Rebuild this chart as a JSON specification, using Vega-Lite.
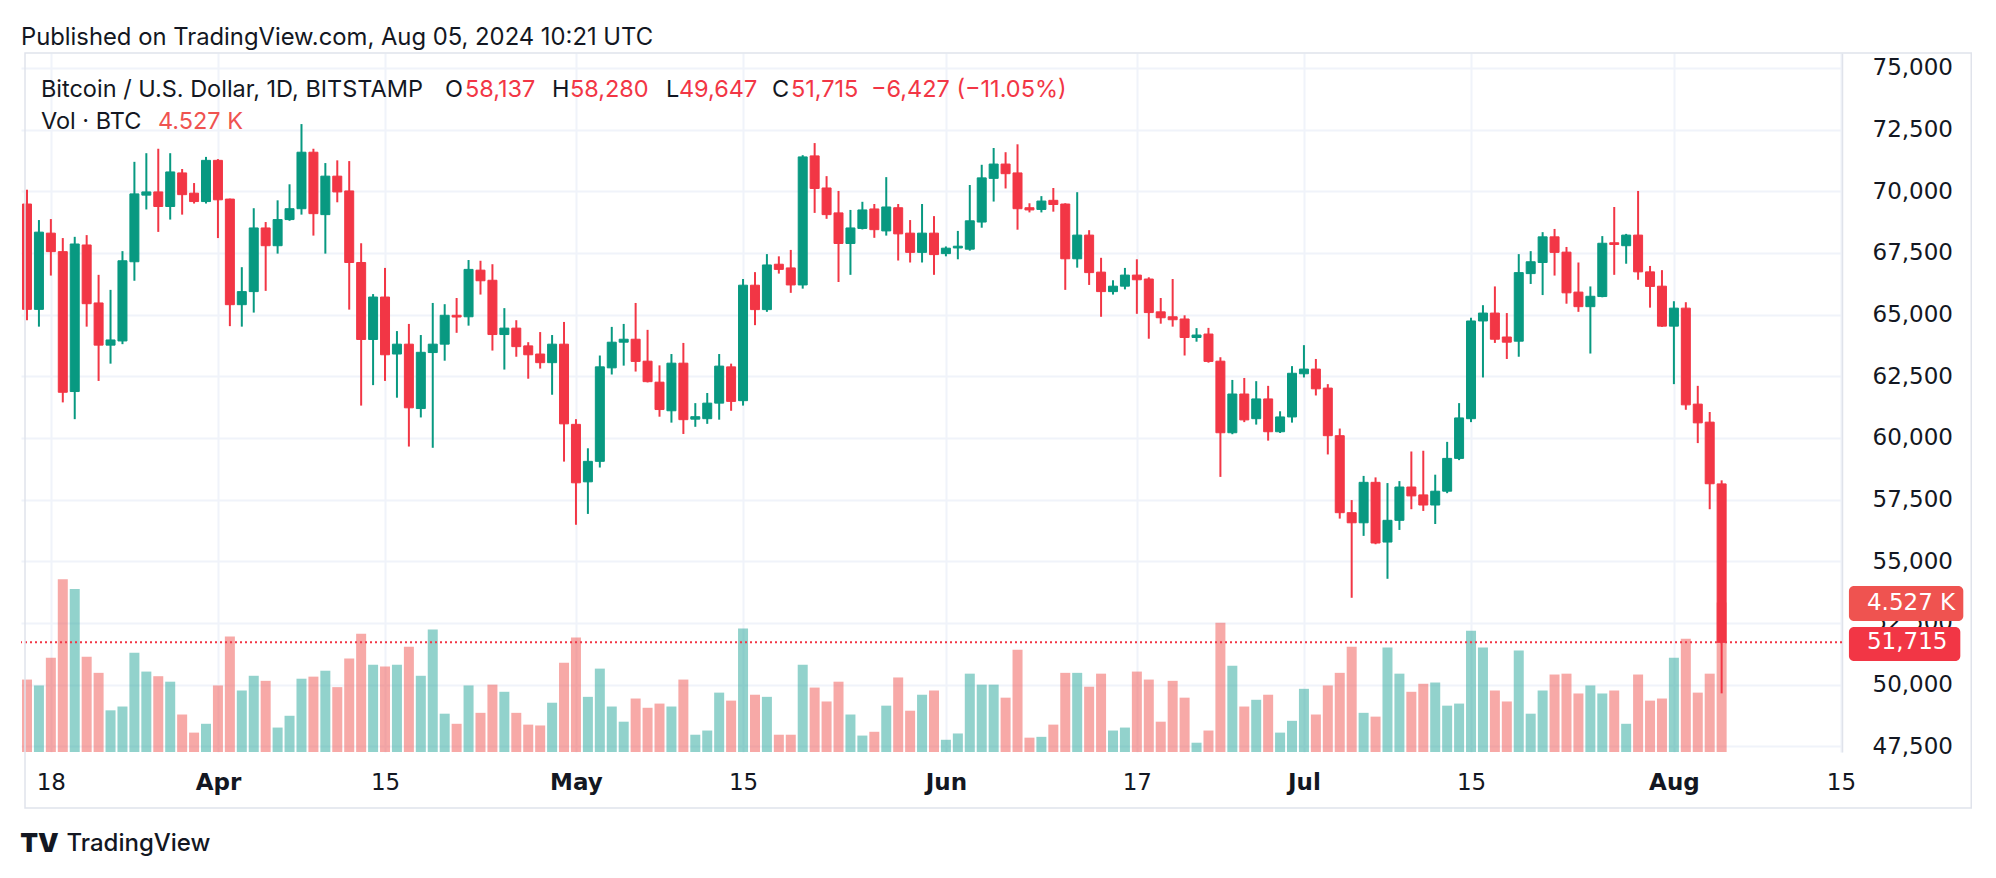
{
  "$schema": "https://vega.github.io/schema/vega-lite/v6.json",
  "width": 1821,
  "height": 699,
  "autosize": {"type": "none"},
  "padding": {"left": 21, "top": 53, "right": 154, "bottom": 126},
  "background": "#ffffff",
  "config": {
    "view": {"stroke": null},
    "axis": {"labelFont": "DejaVu Sans", "labelFontSize": 23, "labelColor": "#131722", "ticks": false, "domain": false, "gridColor": "#f0f3fa", "gridWidth": 2}
  },
  "title": {"text": "Published on TradingView.com, Aug 05, 2024 10:21 UTC", "anchor": "start", "frame": "group", "orient": "top", "offset": 9, "dy": 26, "baseline": "alphabetic", "font": "Inter", "fontSize": 23.8, "fontWeight": 400, "color": "#131722"},
  "data": {"values": [
    {"d":"2024-03-16","o":69480,"h":70060,"l":64770,"c":65210,"v":2193},
    {"d":"2024-03-17","o":65210,"h":68830,"l":64510,"c":68340,"v":2015},
    {"d":"2024-03-18","o":68300,"h":68870,"l":66580,"c":67550,"v":2856},
    {"d":"2024-03-19","o":67550,"h":68100,"l":61440,"c":61850,"v":5228},
    {"d":"2024-03-20","o":61880,"h":68150,"l":60760,"c":67860,"v":4934},
    {"d":"2024-03-21","o":67820,"h":68220,"l":64510,"c":65440,"v":2882},
    {"d":"2024-03-22","o":65470,"h":66610,"l":62310,"c":63760,"v":2397},
    {"d":"2024-03-23","o":63760,"h":66000,"l":63010,"c":63970,"v":1262},
    {"d":"2024-03-24","o":63930,"h":67570,"l":63800,"c":67180,"v":1377},
    {"d":"2024-03-25","o":67140,"h":71190,"l":66370,"c":69890,"v":3009},
    {"d":"2024-03-26","o":69840,"h":71540,"l":69260,"c":69970,"v":2435},
    {"d":"2024-03-27","o":69970,"h":71720,"l":68350,"c":69380,"v":2295},
    {"d":"2024-03-28","o":69380,"h":71540,"l":68850,"c":70780,"v":2129},
    {"d":"2024-03-29","o":70740,"h":70900,"l":69050,"c":69860,"v":1135},
    {"d":"2024-03-30","o":69920,"h":70330,"l":69500,"c":69580,"v":587},
    {"d":"2024-03-31","o":69580,"h":71390,"l":69500,"c":71250,"v":854},
    {"d":"2024-04-01","o":71250,"h":71300,"l":68100,"c":69650,"v":2015},
    {"d":"2024-04-02","o":69680,"h":69700,"l":64530,"c":65400,"v":3494},
    {"d":"2024-04-03","o":65400,"h":66920,"l":64510,"c":65930,"v":1862},
    {"d":"2024-04-04","o":65930,"h":69310,"l":65080,"c":68510,"v":2308},
    {"d":"2024-04-05","o":68510,"h":68750,"l":65960,"c":67790,"v":2155},
    {"d":"2024-04-06","o":67790,"h":69630,"l":67470,"c":68850,"v":740},
    {"d":"2024-04-07","o":68850,"h":70280,"l":68800,"c":69290,"v":1097},
    {"d":"2024-04-08","o":69290,"h":72720,"l":69050,"c":71580,"v":2219},
    {"d":"2024-04-09","o":71580,"h":71720,"l":68200,"c":69090,"v":2282},
    {"d":"2024-04-10","o":69050,"h":71140,"l":67470,"c":70610,"v":2461},
    {"d":"2024-04-11","o":70610,"h":71250,"l":69550,"c":69970,"v":1964},
    {"d":"2024-04-12","o":70010,"h":71220,"l":65200,"c":67110,"v":2831},
    {"d":"2024-04-13","o":67110,"h":67890,"l":61310,"c":63990,"v":3583},
    {"d":"2024-04-14","o":63990,"h":65830,"l":62140,"c":65710,"v":2639},
    {"d":"2024-04-15","o":65710,"h":66890,"l":62310,"c":63370,"v":2588},
    {"d":"2024-04-16","o":63400,"h":64330,"l":61630,"c":63800,"v":2639},
    {"d":"2024-04-17","o":63800,"h":64620,"l":59650,"c":61220,"v":3188},
    {"d":"2024-04-18","o":61190,"h":64170,"l":60830,"c":63470,"v":2308},
    {"d":"2024-04-19","o":63460,"h":65470,"l":59600,"c":63800,"v":3710},
    {"d":"2024-04-20","o":63800,"h":65420,"l":63130,"c":64970,"v":1160},
    {"d":"2024-04-21","o":64970,"h":65670,"l":64260,"c":64900,"v":854},
    {"d":"2024-04-22","o":64910,"h":67210,"l":64550,"c":66830,"v":2015},
    {"d":"2024-04-23","o":66800,"h":67180,"l":65810,"c":66370,"v":1186},
    {"d":"2024-04-24","o":66390,"h":67040,"l":63540,"c":64190,"v":2040},
    {"d":"2024-04-25","o":64190,"h":65260,"l":62770,"c":64450,"v":1823},
    {"d":"2024-04-26","o":64450,"h":64770,"l":63290,"c":63700,"v":1186},
    {"d":"2024-04-27","o":63730,"h":63880,"l":62400,"c":63370,"v":829},
    {"d":"2024-04-28","o":63400,"h":64290,"l":62810,"c":63050,"v":803},
    {"d":"2024-04-29","o":63050,"h":64170,"l":61750,"c":63800,"v":1492},
    {"d":"2024-04-30","o":63800,"h":64700,"l":59040,"c":60570,"v":2703},
    {"d":"2024-05-01","o":60550,"h":60760,"l":56480,"c":58180,"v":3468},
    {"d":"2024-05-02","o":58220,"h":59580,"l":56920,"c":59050,"v":1670},
    {"d":"2024-05-03","o":59050,"h":63340,"l":58800,"c":62880,"v":2525},
    {"d":"2024-05-04","o":62840,"h":64500,"l":62570,"c":63880,"v":1377},
    {"d":"2024-05-05","o":63880,"h":64620,"l":62930,"c":64000,"v":918},
    {"d":"2024-05-06","o":64000,"h":65470,"l":62690,"c":63100,"v":1619},
    {"d":"2024-05-07","o":63110,"h":64380,"l":62250,"c":62280,"v":1339},
    {"d":"2024-05-08","o":62260,"h":62940,"l":60860,"c":61150,"v":1466},
    {"d":"2024-05-09","o":61100,"h":63400,"l":60620,"c":63030,"v":1377},
    {"d":"2024-05-10","o":63030,"h":63850,"l":60160,"c":60740,"v":2193},
    {"d":"2024-05-11","o":60760,"h":61410,"l":60450,"c":60860,"v":523},
    {"d":"2024-05-12","o":60780,"h":61820,"l":60570,"c":61410,"v":650},
    {"d":"2024-05-13","o":61410,"h":63400,"l":60740,"c":62910,"v":1798},
    {"d":"2024-05-14","o":62880,"h":63010,"l":61100,"c":61480,"v":1556},
    {"d":"2024-05-15","o":61510,"h":66440,"l":61310,"c":66190,"v":3736},
    {"d":"2024-05-16","o":66190,"h":66720,"l":64570,"c":65200,"v":1734},
    {"d":"2024-05-17","o":65200,"h":67450,"l":65110,"c":67010,"v":1670},
    {"d":"2024-05-18","o":67040,"h":67360,"l":66660,"c":66830,"v":523},
    {"d":"2024-05-19","o":66890,"h":67620,"l":65880,"c":66200,"v":523},
    {"d":"2024-05-20","o":66200,"h":71460,"l":66050,"c":71390,"v":2639},
    {"d":"2024-05-21","o":71430,"h":71950,"l":69120,"c":70110,"v":1951},
    {"d":"2024-05-22","o":70130,"h":70610,"l":68880,"c":69050,"v":1530},
    {"d":"2024-05-23","o":69120,"h":70010,"l":66320,"c":67880,"v":2129},
    {"d":"2024-05-24","o":67880,"h":69240,"l":66610,"c":68510,"v":1135},
    {"d":"2024-05-25","o":68490,"h":69570,"l":68450,"c":69240,"v":497},
    {"d":"2024-05-26","o":69280,"h":69480,"l":68110,"c":68440,"v":612},
    {"d":"2024-05-27","o":68390,"h":70570,"l":68200,"c":69360,"v":1403},
    {"d":"2024-05-28","o":69330,"h":69480,"l":67190,"c":68270,"v":2257},
    {"d":"2024-05-29","o":68300,"h":68830,"l":67110,"c":67520,"v":1250},
    {"d":"2024-05-30","o":67520,"h":69480,"l":67110,"c":68300,"v":1734},
    {"d":"2024-05-31","o":68300,"h":68990,"l":66610,"c":67430,"v":1862},
    {"d":"2024-06-01","o":67470,"h":67760,"l":67360,"c":67690,"v":370},
    {"d":"2024-06-02","o":67700,"h":68390,"l":67240,"c":67770,"v":561},
    {"d":"2024-06-03","o":67650,"h":70250,"l":67590,"c":68800,"v":2372},
    {"d":"2024-06-04","o":68750,"h":71070,"l":68520,"c":70540,"v":2040},
    {"d":"2024-06-05","o":70520,"h":71750,"l":69580,"c":71100,"v":2040},
    {"d":"2024-06-06","o":71100,"h":71580,"l":70110,"c":70710,"v":1645},
    {"d":"2024-06-07","o":70740,"h":71900,"l":68440,"c":69290,"v":3098},
    {"d":"2024-06-08","o":69330,"h":69510,"l":69140,"c":69240,"v":434},
    {"d":"2024-06-09","o":69260,"h":69800,"l":69140,"c":69600,"v":459},
    {"d":"2024-06-10","o":69630,"h":70130,"l":69170,"c":69460,"v":829},
    {"d":"2024-06-11","o":69480,"h":69510,"l":66000,"c":67260,"v":2397},
    {"d":"2024-06-12","o":67260,"h":69960,"l":66900,"c":68220,"v":2397},
    {"d":"2024-06-13","o":68220,"h":68420,"l":66200,"c":66700,"v":1976},
    {"d":"2024-06-14","o":66720,"h":67300,"l":64910,"c":65930,"v":2372},
    {"d":"2024-06-15","o":65930,"h":66390,"l":65810,"c":66150,"v":650},
    {"d":"2024-06-16","o":66150,"h":66890,"l":66020,"c":66600,"v":740},
    {"d":"2024-06-17","o":66600,"h":67240,"l":65030,"c":66410,"v":2435},
    {"d":"2024-06-18","o":66440,"h":66510,"l":64020,"c":65080,"v":2193},
    {"d":"2024-06-19","o":65110,"h":65670,"l":64630,"c":64870,"v":918},
    {"d":"2024-06-20","o":64910,"h":66440,"l":64510,"c":64790,"v":2155},
    {"d":"2024-06-21","o":64820,"h":64970,"l":63340,"c":64070,"v":1645},
    {"d":"2024-06-22","o":64070,"h":64450,"l":63900,"c":64170,"v":281},
    {"d":"2024-06-23","o":64210,"h":64460,"l":63050,"c":63100,"v":650},
    {"d":"2024-06-24","o":63110,"h":63270,"l":58420,"c":60210,"v":3914},
    {"d":"2024-06-25","o":60210,"h":62350,"l":60150,"c":61780,"v":2614},
    {"d":"2024-06-26","o":61780,"h":62430,"l":60640,"c":60730,"v":1377},
    {"d":"2024-06-27","o":60780,"h":62300,"l":60540,"c":61580,"v":1581},
    {"d":"2024-06-28","o":61580,"h":62110,"l":59890,"c":60250,"v":1734},
    {"d":"2024-06-29","o":60250,"h":61080,"l":60200,"c":60850,"v":587},
    {"d":"2024-06-30","o":60850,"h":62910,"l":60620,"c":62620,"v":944},
    {"d":"2024-07-01","o":62600,"h":63760,"l":62450,"c":62790,"v":1913},
    {"d":"2024-07-02","o":62790,"h":63200,"l":61720,"c":61990,"v":1135},
    {"d":"2024-07-03","o":62020,"h":62180,"l":59330,"c":60090,"v":2015},
    {"d":"2024-07-04","o":60090,"h":60380,"l":56730,"c":56970,"v":2397},
    {"d":"2024-07-05","o":56970,"h":57480,"l":53520,"c":56560,"v":3188},
    {"d":"2024-07-06","o":56560,"h":58460,"l":56030,"c":58200,"v":1186},
    {"d":"2024-07-07","o":58200,"h":58400,"l":55690,"c":55740,"v":1071},
    {"d":"2024-07-08","o":55780,"h":58170,"l":54290,"c":56660,"v":3162},
    {"d":"2024-07-09","o":56660,"h":58250,"l":56270,"c":58010,"v":2372},
    {"d":"2024-07-10","o":58010,"h":59450,"l":57110,"c":57650,"v":1823},
    {"d":"2024-07-11","o":57690,"h":59480,"l":57040,"c":57280,"v":2066},
    {"d":"2024-07-12","o":57280,"h":58510,"l":56510,"c":57840,"v":2104},
    {"d":"2024-07-13","o":57840,"h":59840,"l":57760,"c":59170,"v":1403},
    {"d":"2024-07-14","o":59170,"h":61410,"l":59100,"c":60810,"v":1466},
    {"d":"2024-07-15","o":60780,"h":64870,"l":60640,"c":64740,"v":3672},
    {"d":"2024-07-16","o":64740,"h":65380,"l":62450,"c":65060,"v":3162},
    {"d":"2024-07-17","o":65060,"h":66140,"l":63850,"c":64000,"v":1862},
    {"d":"2024-07-18","o":64090,"h":65060,"l":63200,"c":63880,"v":1530},
    {"d":"2024-07-19","o":63920,"h":67450,"l":63290,"c":66700,"v":3073},
    {"d":"2024-07-20","o":66660,"h":67570,"l":66240,"c":67140,"v":1160},
    {"d":"2024-07-21","o":67110,"h":68340,"l":65790,"c":68150,"v":1862},
    {"d":"2024-07-22","o":68150,"h":68470,"l":66580,"c":67520,"v":2346},
    {"d":"2024-07-23","o":67530,"h":67740,"l":65440,"c":65880,"v":2372},
    {"d":"2024-07-24","o":65910,"h":67110,"l":65110,"c":65320,"v":1772},
    {"d":"2024-07-25","o":65320,"h":66140,"l":63420,"c":65740,"v":2015},
    {"d":"2024-07-26","o":65730,"h":68180,"l":65700,"c":67890,"v":1772},
    {"d":"2024-07-27","o":67910,"h":69360,"l":66610,"c":67840,"v":1862},
    {"d":"2024-07-28","o":67790,"h":68270,"l":67060,"c":68220,"v":854},
    {"d":"2024-07-29","o":68220,"h":70010,"l":66410,"c":66730,"v":2346},
    {"d":"2024-07-30","o":66730,"h":66970,"l":65280,"c":66140,"v":1556},
    {"d":"2024-07-31","o":66150,"h":66800,"l":64500,"c":64530,"v":1619},
    {"d":"2024-08-01","o":64530,"h":65540,"l":62180,"c":65260,"v":2856},
    {"d":"2024-08-02","o":65260,"h":65500,"l":61140,"c":61340,"v":3430},
    {"d":"2024-08-03","o":61370,"h":62110,"l":59790,"c":60610,"v":1798},
    {"d":"2024-08-04","o":60640,"h":61050,"l":57110,"c":58142,"v":2372},
    {"d":"2024-08-05","o":58137,"h":58280,"l":49647,"c":51715,"v":4527}
  ]},
  "layer": [
    {
      "mark": {"type": "bar", "width": 10, "fillOpacity": 0.5, "clip": true},
      "encoding": {
        "x": {"field": "d", "type": "temporal",
          "scale": {"domain": [{"year": 2024, "month": 3, "date": 15, "hours": 22, "utc": true}, {"year": 2024, "month": 8, "date": 14, "hours": 16, "utc": true}], "nice": false},
          "axis": {"orient": "bottom",
            "values": [{"year": 2024, "month": 3, "date": 18, "utc": true}, {"year": 2024, "month": 4, "date": 1, "utc": true}, {"year": 2024, "month": 4, "date": 15, "utc": true}, {"year": 2024, "month": 5, "date": 1, "utc": true}, {"year": 2024, "month": 5, "date": 15, "utc": true}, {"year": 2024, "month": 6, "date": 1, "utc": true}, {"year": 2024, "month": 6, "date": 17, "utc": true}, {"year": 2024, "month": 7, "date": 1, "utc": true}, {"year": 2024, "month": 7, "date": 15, "utc": true}, {"year": 2024, "month": 8, "date": 1, "utc": true}, {"year": 2024, "month": 8, "date": 15, "utc": true}],
            "labelExpr": "utcdate(datum.value) == 1 ? utcFormat(datum.value, '%b') : utcFormat(datum.value, '%-d')",
            "labelFontWeight": {"condition": {"test": "utcdate(datum.value) == 1", "value": "bold"}, "value": "normal"},
            "labelBaseline": "middle", "labelPadding": 30, "labelFlush": false, "labelOverlap": false, "labelBound": false, "grid": true,
            "title": "TradingView", "titleX": 45, "titleY": 91, "titleAnchor": "start", "titleAlign": "left", "titleBaseline": "middle", "titleFont": "Inter", "titleFontSize": 24, "titleFontWeight": 500, "titleColor": "#131722"}},
        "y": {"field": "v", "type": "quantitative", "scale": {"domain": [0, 21166], "nice": false},
          "axis": {"orient": "left", "labels": false, "grid": false, "title": "TV", "titleX": 18, "titleY": 790, "titleAngle": 0, "titleAlign": "center", "titleBaseline": "middle", "titleFont": "Inter", "titleFontSize": 26, "titleFontWeight": 900, "titleColor": "#131722"}},
        "color": {"condition": {"test": "datum.c >= datum.o", "value": "#26a69a"}, "value": "#ef5350"}
      }
    },
    {
      "layer": [
        {
          "data": {"values": [{}]},
          "mark": {"type": "rule", "stroke": "#f23645", "strokeWidth": 2, "strokeDash": [2, 3], "clip": true},
          "encoding": {"y": {"datum": 51715, "type": "quantitative"}}
        },
        {
          "mark": {"type": "rule", "strokeWidth": 2, "clip": true},
          "encoding": {
            "x": {"field": "d", "type": "temporal"},
            "y": {"field": "l", "type": "quantitative", "scale": {"domain": [47270, 75601], "nice": false, "zero": false},
              "axis": {"orient": "right", "values": [47500, 50000, 52500, 55000, 57500, 60000, 62500, 65000, 67500, 70000, 72500, 75000], "labelExpr": "format(datum.value, ',')", "labelAlign": "left", "labelBaseline": "middle", "labelPadding": 30, "labelFlush": false, "labelOverlap": false, "labelBound": false, "grid": true, "domain": true, "domainColor": "#e0e3eb", "domainWidth": 1.5, "title": null}},
            "y2": {"field": "h"},
            "color": {"condition": {"test": "datum.c >= datum.o", "value": "#089981"}, "value": "#f23645"}
          }
        },
        {
          "mark": {"type": "bar", "width": 9, "strokeWidth": 1, "clip": true},
          "encoding": {
            "x": {"field": "d", "type": "temporal"},
            "y": {"field": "o", "type": "quantitative"},
            "y2": {"field": "c"},
            "color": {"condition": {"test": "datum.c >= datum.o", "value": "#089981"}, "value": "#f23645"},
            "stroke": {"condition": {"test": "datum.c >= datum.o", "value": "#089981"}, "value": "#f23645"}
          }
        },
        {
          "data": {"values": [{}]},
          "mark": {"type": "rect", "filled": false, "color": "#e0e3eb", "strokeWidth": 1.5, "clip": false},
          "encoding": {
            "x": {"datum": {"year": 2024, "month": 3, "date": 15, "hours": 20, "utc": true}, "type": "temporal"},
            "x2": {"datum": {"year": 2024, "month": 8, "date": 25, "hours": 22, "utc": true}},
            "y": {"datum": 75601, "type": "quantitative"},
            "y2": {"datum": 45000}
          }
        },
        {
          "data": {"values": [{}]},
          "mark": {"type": "rect", "color": "#ef5350", "cornerRadius": 5, "clip": false},
          "encoding": {
            "x": {"datum": {"year": 2024, "month": 8, "date": 15, "hours": 16, "utc": true}, "type": "temporal"},
            "x2": {"datum": {"year": 2024, "month": 8, "date": 25, "hours": 6, "utc": true}},
            "y": {"datum": 53999, "type": "quantitative"},
            "y2": {"datum": 52580}
          }
        },
        {
          "data": {"values": [{}]},
          "mark": {"type": "text", "align": "left", "baseline": "middle", "dx": 18, "font": "DejaVu Sans", "fontSize": 23, "color": "#ffffff", "clip": false},
          "encoding": {
            "x": {"datum": {"year": 2024, "month": 8, "date": 15, "hours": 16, "utc": true}, "type": "temporal"},
            "y": {"datum": 53289, "type": "quantitative"},
            "text": {"value": "4.527 K"}
          }
        },
        {
          "data": {"values": [{}]},
          "mark": {"type": "rect", "color": "#f23645", "cornerRadius": 5, "clip": false},
          "encoding": {
            "x": {"datum": {"year": 2024, "month": 8, "date": 15, "hours": 16, "utc": true}, "type": "temporal"},
            "x2": {"datum": {"year": 2024, "month": 8, "date": 25, "hours": 0, "utc": true}},
            "y": {"datum": 52337, "type": "quantitative"},
            "y2": {"datum": 50959}
          }
        },
        {
          "data": {"values": [{}]},
          "mark": {"type": "text", "align": "left", "baseline": "middle", "dx": 18, "font": "DejaVu Sans", "fontSize": 23, "color": "#ffffff", "clip": false},
          "encoding": {
            "x": {"datum": {"year": 2024, "month": 8, "date": 15, "hours": 16, "utc": true}, "type": "temporal"},
            "y": {"datum": 51715, "type": "quantitative"},
            "text": {"value": "51,715"}
          }
        },
        {
          "data": {"values": [{}]},
          "mark": {"type": "text", "align": "left", "baseline": "middle", "dx": 0, "font": "Inter", "fontSize": 23.5, "fontWeight": 400, "color": "#131722"},
          "encoding": {"x": {"datum": {"year": 2024, "month": 3, "date": 17, "hours": 4, "utc": true}, "type": "temporal"}, "y": {"datum": 74101, "type": "quantitative"}, "text": {"value": "Bitcoin / U.S. Dollar, 1D, BITSTAMP"}}
        },
        {
          "data": {"values": [{}]},
          "mark": {"type": "text", "align": "left", "baseline": "middle", "dx": 404, "font": "Inter", "fontSize": 23.5, "fontWeight": 400, "color": "#131722"},
          "encoding": {"x": {"datum": {"year": 2024, "month": 3, "date": 17, "hours": 4, "utc": true}, "type": "temporal"}, "y": {"datum": 74101, "type": "quantitative"}, "text": {"value": "O"}}
        },
        {
          "data": {"values": [{}]},
          "mark": {"type": "text", "align": "left", "baseline": "middle", "dx": 424, "font": "Inter", "fontSize": 23.5, "fontWeight": 400, "color": "#f23645"},
          "encoding": {"x": {"datum": {"year": 2024, "month": 3, "date": 17, "hours": 4, "utc": true}, "type": "temporal"}, "y": {"datum": 74101, "type": "quantitative"}, "text": {"value": "58,137"}}
        },
        {
          "data": {"values": [{}]},
          "mark": {"type": "text", "align": "left", "baseline": "middle", "dx": 511, "font": "Inter", "fontSize": 23.5, "fontWeight": 400, "color": "#131722"},
          "encoding": {"x": {"datum": {"year": 2024, "month": 3, "date": 17, "hours": 4, "utc": true}, "type": "temporal"}, "y": {"datum": 74101, "type": "quantitative"}, "text": {"value": "H"}}
        },
        {
          "data": {"values": [{}]},
          "mark": {"type": "text", "align": "left", "baseline": "middle", "dx": 529, "font": "Inter", "fontSize": 23.5, "fontWeight": 400, "color": "#f23645"},
          "encoding": {"x": {"datum": {"year": 2024, "month": 3, "date": 17, "hours": 4, "utc": true}, "type": "temporal"}, "y": {"datum": 74101, "type": "quantitative"}, "text": {"value": "58,280"}}
        },
        {
          "data": {"values": [{}]},
          "mark": {"type": "text", "align": "left", "baseline": "middle", "dx": 625, "font": "Inter", "fontSize": 23.5, "fontWeight": 400, "color": "#131722"},
          "encoding": {"x": {"datum": {"year": 2024, "month": 3, "date": 17, "hours": 4, "utc": true}, "type": "temporal"}, "y": {"datum": 74101, "type": "quantitative"}, "text": {"value": "L"}}
        },
        {
          "data": {"values": [{}]},
          "mark": {"type": "text", "align": "left", "baseline": "middle", "dx": 638, "font": "Inter", "fontSize": 23.5, "fontWeight": 400, "color": "#f23645"},
          "encoding": {"x": {"datum": {"year": 2024, "month": 3, "date": 17, "hours": 4, "utc": true}, "type": "temporal"}, "y": {"datum": 74101, "type": "quantitative"}, "text": {"value": "49,647"}}
        },
        {
          "data": {"values": [{}]},
          "mark": {"type": "text", "align": "left", "baseline": "middle", "dx": 731, "font": "Inter", "fontSize": 23.5, "fontWeight": 400, "color": "#131722"},
          "encoding": {"x": {"datum": {"year": 2024, "month": 3, "date": 17, "hours": 4, "utc": true}, "type": "temporal"}, "y": {"datum": 74101, "type": "quantitative"}, "text": {"value": "C"}}
        },
        {
          "data": {"values": [{}]},
          "mark": {"type": "text", "align": "left", "baseline": "middle", "dx": 750, "font": "Inter", "fontSize": 23.5, "fontWeight": 400, "color": "#f23645"},
          "encoding": {"x": {"datum": {"year": 2024, "month": 3, "date": 17, "hours": 4, "utc": true}, "type": "temporal"}, "y": {"datum": 74101, "type": "quantitative"}, "text": {"value": "51,715"}}
        },
        {
          "data": {"values": [{}]},
          "mark": {"type": "text", "align": "left", "baseline": "middle", "dx": 830, "font": "Inter", "fontSize": 23.5, "fontWeight": 400, "color": "#f23645"},
          "encoding": {"x": {"datum": {"year": 2024, "month": 3, "date": 17, "hours": 4, "utc": true}, "type": "temporal"}, "y": {"datum": 74101, "type": "quantitative"}, "text": {"value": "−6,427 (−11.05%)"}}
        },
        {
          "data": {"values": [{}]},
          "mark": {"type": "text", "align": "left", "baseline": "middle", "dx": 0, "font": "Inter", "fontSize": 23.5, "fontWeight": 400, "color": "#131722"},
          "encoding": {"x": {"datum": {"year": 2024, "month": 3, "date": 17, "hours": 4, "utc": true}, "type": "temporal"}, "y": {"datum": 72804, "type": "quantitative"}, "text": {"value": "Vol · BTC"}}
        },
        {
          "data": {"values": [{}]},
          "mark": {"type": "text", "align": "left", "baseline": "middle", "dx": 117, "font": "Inter", "fontSize": 23.5, "fontWeight": 400, "color": "#ef5350"},
          "encoding": {"x": {"datum": {"year": 2024, "month": 3, "date": 17, "hours": 4, "utc": true}, "type": "temporal"}, "y": {"datum": 72804, "type": "quantitative"}, "text": {"value": "4.527 K"}}
        }
      ]
    }
  ],
  "resolve": {"scale": {"y": "independent"}}
}
